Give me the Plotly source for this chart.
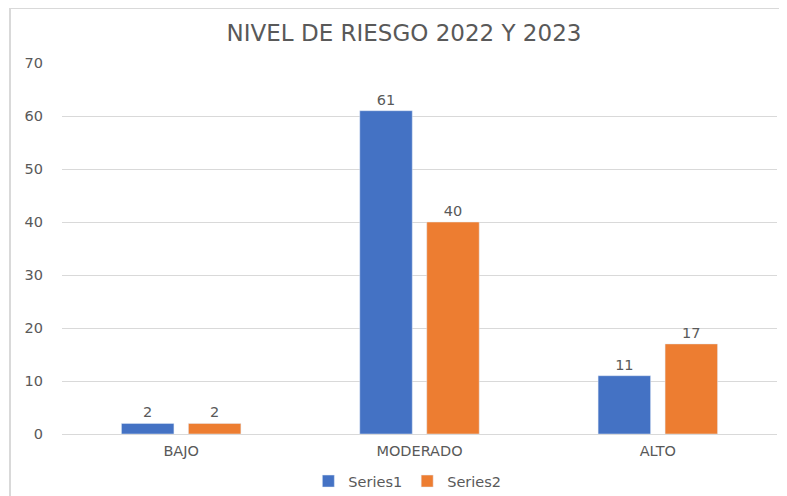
import plotly.graph_objects as go

categories = ["BAJO", "MODERADO", "ALTO"]
series1 = [2, 61, 11]
series2 = [2, 40, 17]
series_names = ["Series1", "Series2"]
title_text = "NIVEL DE RIESGO 2022 Y 2023"

font_family = "DejaVu Sans, sans-serif"
grey = "#595959"

W, H = 779, 488

fig = go.Figure()
fig.add_trace(go.Bar(x=categories, y=series1, name=series_names[0], marker_color="#4472C4",
                     text=series1, textposition="outside",
                     textfont=dict(size=14.5, color=grey, family=font_family), cliponaxis=False))
fig.add_trace(go.Bar(x=categories, y=series2, name=series_names[1], marker_color="#ED7D31",
                     text=series2, textposition="outside",
                     textfont=dict(size=14.5, color=grey, family=font_family), cliponaxis=False))

fig.update_layout(
    width=W, height=H,
    margin=dict(l=54, r=10, t=55, b=62, autoexpand=False),
    paper_bgcolor="white", plot_bgcolor="white",
    barmode="group", bargap=0.438, bargroupgap=0.216,
    title=dict(text=title_text, x=396 / W, xanchor="center", y=1 - 25 / H, yanchor="middle",
               font=dict(size=23, color=grey, family=font_family)),
    font=dict(family=font_family, color=grey),
    showlegend=True,
    legend=dict(orientation="h", x=0.483, xanchor="center", y=-0.127, yanchor="middle",
                font=dict(size=14.5, color=grey), itemwidth=30, traceorder="normal"),
    xaxis=dict(showgrid=False, showline=True, linecolor="#d9d9d9", linewidth=1, automargin=False,
               tickfont=dict(size=14.5, color=grey), ticks="", ticklabelstandoff=4),
    yaxis=dict(range=[0, 70], dtick=10, showgrid=True, gridcolor="#d9d9d9", gridwidth=1,
               zeroline=False, showline=False, ticks="", ticklen=0, automargin=False,
               tickfont=dict(size=14.5, color=grey), ticklabelstandoff=18),
)
fig.add_shape(type="rect", xref="paper", yref="paper",
              x0=-0.0727, x1=1.03, y0=-0.2, y1=1.148,
              line=dict(color="#d9d9d9", width=2), layer="below")
fig.write_html("out.html")
